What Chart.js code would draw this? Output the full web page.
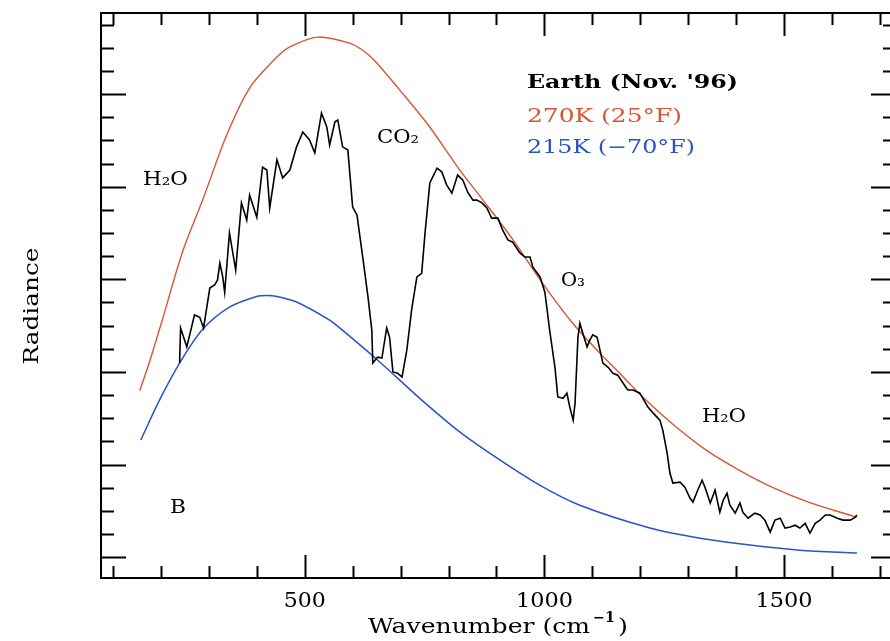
<!DOCTYPE html>
<html>
<head>
<meta charset="utf-8">
<script src="https://cdn.jsdelivr.net/npm/chart.js@4.4.0/dist/chart.umd.min.js"></script>
<style>
  html, body { margin: 0; padding: 0; background: #fff; }
  canvas { display: block; }
</style>
</head>
<body>
<canvas id="grafico" width="890" height="641"></canvas>
<script>
const espectroX = [239, 241, 254, 270, 281, 289, 302, 312, 318, 323, 329, 333, 343, 356, 368, 379, 385, 400, 412, 421,
    427, 442, 454, 469, 483, 496, 510, 521, 535, 546, 552, 563, 569, 579, 590, 600, 609, 621, 632, 640,
    642, 652, 661, 671, 677, 684, 694, 703, 713, 723, 734, 744, 751, 761, 776, 786, 796, 807, 819, 830,
    840, 851, 859, 870, 880, 890, 903, 913, 924, 934, 949, 959, 970, 976, 991, 1001, 1011, 1022, 1028, 1039,
    1047, 1053, 1060, 1064, 1070, 1074, 1080, 1089, 1095, 1101, 1110, 1116, 1122, 1133, 1143, 1153, 1164, 1174, 1185, 1199,
    1216, 1227, 1241, 1247, 1256, 1262, 1268, 1283, 1293, 1304, 1310, 1320, 1329, 1335, 1346, 1356, 1366, 1373, 1381, 1387,
    1398, 1408, 1414, 1425, 1439, 1450, 1460, 1471, 1481, 1492, 1502, 1513, 1523, 1533, 1544, 1554, 1565, 1575, 1586, 1596,
    1611, 1623, 1638, 1648, 1652];
const espectroY = [41.9, 49.5, 45.4, 52.3, 51.8, 49.5, 58.1, 58.8, 59.8, 63.5, 60.5, 57.2, 70.0, 62.0, 76.5, 72.8, 78.2, 73.4, 84.2, 83.6,
    75.4, 85.8, 81.9, 83.6, 88.6, 91.8, 90.1, 87.3, 95.9, 92.9, 89.0, 94.0, 94.4, 88.6, 87.9, 75.6, 73.9, 64.8, 56.2, 49.0,
    41.9, 43.2, 43.0, 49.5, 47.5, 40.0, 39.7, 38.9, 44.7, 53.4, 60.5, 61.3, 70.0, 80.8, 84.0, 83.2, 80.4, 78.6, 82.5, 81.4,
    78.8, 77.1, 77.1, 76.5, 75.4, 73.2, 73.2, 70.6, 68.5, 68.0, 65.7, 64.8, 64.8, 62.6, 60.5, 57.2, 49.0, 41.0, 34.6, 34.3,
    35.4, 32.4, 29.6, 33.3, 47.5, 50.5, 48.4, 45.4, 46.9, 48.0, 47.5, 44.7, 41.9, 41.0, 39.7, 39.3, 37.6, 36.1, 36.1, 35.4,
    32.4, 31.1, 29.6, 27.4, 22.5, 18.1, 16.0, 16.2, 15.1, 12.7, 11.9, 14.5, 16.6, 15.1, 11.7, 14.5, 9.7, 12.3, 13.8, 11.2,
    9.5, 11.7, 9.7, 8.4, 9.5, 9.1, 8.0, 5.4, 8.0, 8.4, 6.3, 6.5, 6.9, 6.3, 7.3, 5.2, 7.3, 8.0, 9.1, 9.1,
    8.4, 8.0, 8.0, 8.6, 9.1];

// Cuerpo negro 270K
const calienteX = [156, 176, 204, 245, 287, 337, 385, 442, 469, 527, 594, 620, 646, 698, 760, 824, 872, 934, 997, 1059,
    1116, 1143, 1214, 1268, 1339, 1408, 1477, 1548, 1652];
const calienteY = [36.0, 42.1, 51.6, 65.9, 77.1, 91.1, 101.3, 108.0, 110.2, 112.3, 111.0, 109.5, 107.2, 100.9, 93.0, 83.5, 77.1, 68.6, 59.0, 50.5,
    44.0, 41.2, 33.7, 28.7, 23.0, 18.7, 15.0, 12.0, 8.6];

// Cuerpo negro 215K
const frioX = [158, 197, 239, 287, 343, 400, 421, 442, 483, 552, 573, 657, 740, 824, 907, 991, 1074, 1220, 1325, 1429, 1533, 1652];
const frioY = [25.3, 33.9, 41.9, 49.2, 54.0, 56.3, 56.5, 56.3, 55.1, 51.2, 49.5, 42.1, 34.3, 27.0, 21.0, 15.5, 11.2, 6.3, 4.1, 2.6, 1.5, 0.9];

const etiquetasX = [500, 1000, 1500];
const ticksX = [100, 200, 300, 400, 500, 600, 700, 800, 900, 1000, 1100, 1200, 1300, 1400, 1500, 1600, 1700];
const ticksY = [0, 5, 10, 15, 20, 25, 30, 35, 40, 45, 50, 55, 60, 65, 70, 75, 80, 85, 90, 95, 100, 105, 110, 115];

const ROJO = 'rgb(214, 86, 52)';
const AZUL = 'rgb(40, 84, 200)';

function puntos(xs, ys) {
    return xs.map((x, i) => ({ x: x, y: ys[i] }));
}

// texto ajustado a un ancho dado (la fuente original es mas ancha)
function texto(ctx, str, x, y, ancho, fuente, color, alinear) {
    ctx.save();
    ctx.font = fuente;
    const w = ctx.measureText(str).width;
    ctx.translate(x, y);
    ctx.scale(ancho / w, 1);
    ctx.fillStyle = color;
    ctx.textBaseline = 'middle';
    ctx.textAlign = alinear || 'left';
    ctx.fillText(str, 0, 0);
    ctx.restore();
}

const marcoPlugin = {
    id: 'marco',
    afterDraw(chart) {
        const ctx = chart.ctx;
        const a = chart.chartArea;
        const sx = chart.scales.x;
        const sy = chart.scales.y;
        // el borde derecho del marco queda fuera de la imagen
        const derecha = a.right + 6;

        ctx.save();
        ctx.strokeStyle = '#000';
        ctx.lineWidth = 2;
        ctx.beginPath();
        ctx.moveTo(derecha, a.top); ctx.lineTo(a.left, a.top);
        ctx.lineTo(a.left, a.bottom); ctx.lineTo(derecha, a.bottom);
        for (let v of ticksX) {
            const px = Math.round(sx.getPixelForValue(v)) + 0.5;
            const largo = v % 500 === 0 ? 23 : 12;
            ctx.moveTo(px, a.bottom); ctx.lineTo(px, a.bottom - largo);
            ctx.moveTo(px, a.top); ctx.lineTo(px, a.top + largo);
        }
        for (let v of ticksY) {
            const py = Math.round(sy.getPixelForValue(v)) + 0.5;
            const largo = v % 20 === 0 ? 25 : 13;
            ctx.moveTo(a.left, py); ctx.lineTo(a.left + largo, py);
            ctx.moveTo(derecha, py); ctx.lineTo(derecha - largo, py);
        }
        ctx.stroke();
        ctx.restore();

        const serif = '"DejaVu Serif", serif';
        for (let v of etiquetasX) {
            const ancho = v < 1000 ? 42 : 57;
            texto(ctx, String(v), sx.getPixelForValue(v), 602, ancho, '20px ' + serif, '#000', 'center');
        }

        // titulos de ejes
        texto(ctx, 'Wavenumber (cm', 368, 628, 222, '20px ' + serif, '#000');
        texto(ctx, '\u22121', 593, 618, 22, 'bold 14px ' + serif, '#000');
        texto(ctx, ')', 618, 628, 10, '20px ' + serif, '#000');

        ctx.save();
        ctx.translate(33, 306);
        ctx.rotate(-Math.PI / 2);
        texto(ctx, 'Radiance', 0, 0, 117, '20px ' + serif, '#000', 'center');
        ctx.restore();

        // leyenda y anotaciones
        texto(ctx, "Earth (Nov. '96)", 527, 83, 211, 'bold 19px ' + serif, '#000');
        texto(ctx, '270K (25\u00b0F)', 527, 117, 155, '19px ' + serif, ROJO);
        texto(ctx, '215K (\u221270\u00b0F)', 527, 148, 168, '19px ' + serif, AZUL);

        texto(ctx, 'H\u2082O', 143, 180, 45, '19px ' + serif, '#000');
        texto(ctx, 'CO\u2082', 377, 138, 42, '19px ' + serif, '#000');
        texto(ctx, 'O\u2083', 561, 281, 24, '19px ' + serif, '#000');
        texto(ctx, 'H\u2082O', 702, 417, 44, '19px ' + serif, '#000');
        texto(ctx, 'B', 170, 508, 16, '19px ' + serif, '#000');
    }
};

const ctx = document.getElementById('grafico').getContext('2d');
new Chart(ctx, {
    type: 'line',
    data: {
        datasets: [
            {
                label: 'Earth',
                data: puntos(espectroX, espectroY),
                borderColor: '#000',
                borderWidth: 1.6,
                pointRadius: 0,
                tension: 0
            },
            {
                label: '270K',
                data: puntos(calienteX, calienteY),
                borderColor: ROJO,
                borderWidth: 1.4,
                pointRadius: 0,
                tension: 0.3
            },
            {
                label: '215K',
                data: puntos(frioX, frioY),
                borderColor: AZUL,
                borderWidth: 1.5,
                pointRadius: 0,
                tension: 0.3
            }
        ]
    },
    options: {
        responsive: false,
        animation: false,
        layout: { padding: { left: 101, right: 0, top: 13, bottom: 63 } },
        plugins: {
            legend: { display: false },
            tooltip: { enabled: false }
        },
        scales: {
            x: { type: 'linear', min: 75, max: 1721, display: false },
            y: { type: 'linear', min: -4.5, max: 117.5, display: false }
        }
    },
    plugins: [marcoPlugin]
});
</script>
</body>
</html>
